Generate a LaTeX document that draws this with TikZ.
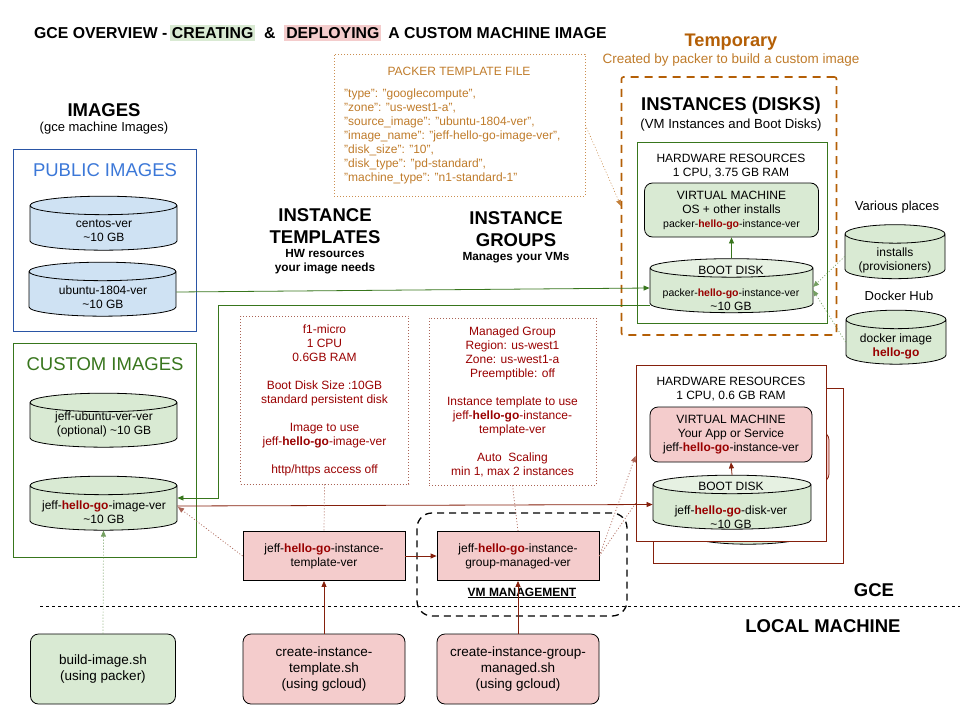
\documentclass[tikz,border=0pt]{standalone}
\usepackage{fontspec}
\setmainfont{Liberation Sans}
\usetikzlibrary{arrows.meta,shapes.geometric}
\definecolor{fillGreen}{HTML}{D9EAD3}
\definecolor{fillPink}{HTML}{F4CCCC}
\definecolor{fillBlue}{HTML}{CFE2F3}
\definecolor{lineGreen}{HTML}{38761D}
\definecolor{lineBlue}{HTML}{2A55A5}
\definecolor{textBlue}{HTML}{3C78D8}
\definecolor{lineRed}{HTML}{85200C}
\definecolor{textRed}{HTML}{990000}
\definecolor{lineOrange}{HTML}{B45F06}
\definecolor{textOrange}{HTML}{BF7B2A}
\newcommand{\hg}{\textbf{\textcolor{textRed}{hello-go}}}
\newcommand{\gb}{\textasciitilde 10 GB}
\newcommand{\px}[2]{\fontsize{#1}{#2}\selectfont}
\newcommand{\lid}{\phantom{centos-ver}\\\phantom{10 GB}}
\begin{document}
\begin{tikzpicture}
        [x=1pt, y=-1pt,
        every node/.style={font=\px{12}{14}, align=center, inner sep=0pt},
        frame/.style={draw, line width=0.8pt, fill=white},
        heading/.style={font=\px{18.5}{22}\bfseries},
        subHeading/.style={font=\px{11.8}{14}\bfseries},
        boxGreen/.style={draw, line width=0.8pt, rounded corners=8pt, fill=fillGreen},
        boxPink/.style={draw, line width=0.8pt, rounded corners=8pt, fill=fillPink},
        rectPink/.style={draw, line width=0.8pt, fill=fillPink},
        notePink/.style={draw=lineRed!70, dash pattern=on 1pt off 2pt, line width=0.6pt, text=textRed},
        disk/.style={cylinder, shape border rotate=90, aspect=0.33, draw, line width=0.8pt, cylinder uses custom fill},
        diskBlue/.style={disk, cylinder body fill=fillBlue, cylinder end fill=fillBlue, minimum width=147, minimum height=54},
        diskGreen/.style={disk, cylinder body fill=fillGreen, cylinder end fill=fillGreen, minimum width=147, minimum height=54},
        diskBoot/.style={disk, cylinder body fill=fillGreen, cylinder end fill=fillGreen!65, minimum height=54},
        diskSmall/.style={disk, cylinder body fill=fillGreen, cylinder end fill=fillGreen, minimum width=100, minimum height=54},
        arrowTip/.style={-{Triangle[length=6pt,width=5pt]}},
        lnGreen/.style={arrowTip, lineGreen, line width=0.8pt},
        lnRed/.style={arrowTip, lineRed, line width=0.8pt},
        dotGreen/.style={arrowTip, lineGreen!70, dash pattern=on 1pt off 2pt, line width=0.7pt},
        dotRed/.style={arrowTip, lineRed!70, dash pattern=on 1pt off 2pt, line width=0.7pt}]
        \useasboundingbox (0,0) rectangle (960,720);
        \setlength{\fboxsep}{2pt}

        \node[font=\px{15.8}{18}\bfseries, anchor=west] (title) at (34,33) {GCE OVERVIEW -\,\colorbox{fillGreen}{CREATING}\ \ \&\ \ \colorbox{fillPink}{DEPLOYING}\, A CUSTOM MACHINE IMAGE};

        % left column
        \node[heading] (imgHead) at (104,110) {IMAGES};
        \node[font=\px{13}{15}] (imgSub) at (104,128) {(gce machine Images)};
        \node[frame, draw=lineBlue, minimum width=183, minimum height=182] (publicBox) at (105,240) {};
        \node[font=\px{18.5}{22}, text=textBlue] (publicHead) at (105,170) {PUBLIC IMAGES};
        \node[diskBlue] (centos) at (103.5,228) {\lid};
        \node (centosText) at (104,231) {centos-ver\\\gb};
        \node[diskBlue] (ubuntu) at (102.5,294) {\lid};
        \node (ubuntuText) at (103,297) {ubuntu-1804-ver\\\gb};
        \node[frame, draw=lineGreen, minimum width=183, minimum height=214] (customBox) at (105,450) {};
        \node[font=\px{18.5}{22}, text=lineGreen] (customHead) at (105,364) {CUSTOM IMAGES};
        \node[diskGreen] (jeffUbuntu) at (103.5,425) {\lid};
        \node (jeffUbuntuText) at (104,424) {jeff-ubuntu-ver-ver\\(optional) \gb};
        \node[diskGreen] (jeffImage) at (103.5,508) {\lid};
        \node (jeffImageText) at (104,512) {jeff-\hg-image-ver\\\gb};

        % middle column
        \node[draw=lineOrange!70, dash pattern=on 1pt off 2pt, line width=0.6pt, minimum width=251, minimum height=142] (packerBox) at (459.5,125) {};
        \node[text=textOrange] (packerHead) at (459,71) {PACKER TEMPLATE FILE};
        \node[text=textOrange, align=left, anchor=north west] (packerText) at (344,89) {"type": "googlecompute",\\"zone": "us-west1-a",\\"source\_image": "ubuntu-1804-ver",\\"image\_name": "jeff-hello-go-image-ver",\\"disk\_size": "10",\\"disk\_type": "pd-standard",\\"machine\_type": "n1-standard-1"};
        \node[heading] (tmplHead) at (325,226) {INSTANCE\\TEMPLATES};
        \node[subHeading] (tmplSub) at (325,262) {HW resources\\your image needs};
        \node[heading] (groupHead) at (516,229) {INSTANCE\\GROUPS};
        \node[subHeading] (groupSub) at (516,258) {Manages your VMs};
        \node[notePink, minimum width=168, minimum height=168] (tmplNote) at (324.5,400) {f1-micro\\1 CPU\\0.6GB RAM\\[14pt]Boot Disk Size :10GB\\standard persistent disk\\[14pt]Image to use\\jeff-\textbf{hello-go}-image-ver\\[14pt]http/https access off};
        \node[notePink, minimum width=167, minimum height=167] (groupNote) at (512.5,401.5) {Managed Group\\Region: us-west1\\Zone: us-west1-a\\Preemptible: off\\[14pt]Instance template to use\\jeff-\textbf{hello-go}-instance-\\template-ver\\[14pt]Auto\ \ Scaling\\min 1, max 2 instances};

        % temporary instance
        \node[font=\px{18.2}{22}\bfseries, text=lineOrange] (tempHead) at (731,42) {Temporary};
        \node[font=\px{13.5}{16}, text=textOrange] (tempSub) at (731,60) {Created by packer to build a custom image};
        \node[draw=lineOrange, dashed, line width=1.6pt, rounded corners=2pt, dash pattern=on 8pt off 6pt, minimum width=215, minimum height=258] (tempBox) at (729,206) {};
        \node[heading] (instHead) at (731,106) {INSTANCES (DISKS)};
        \node[font=\px{13.2}{15}] (instSub) at (731,125) {(VM Instances and Boot Disks)};
        \node[frame, draw=lineGreen, minimum width=190, minimum height=181] (hwGreen) at (732,232.5) {};
        \node (hwGreenText) at (731,166) {HARDWARE RESOURCES\\1 CPU, 3.75 GB RAM};
        \node[boxGreen, minimum width=174, minimum height=54] (vmGreen) at (731.5,210) {VIRTUAL MACHINE\\OS + other installs\\\px{10.5}{14}packer-\hg-instance-ver};
        \node[diskBoot, minimum width=163] (bootGreen) at (731.5,290.5) {\lid};
        \node (bootGreenHead) at (731,270) {BOOT DISK};
        \node (bootGreenText) at (731,300) {\px{10.5}{14}packer-\hg-instance-ver\\\px{12}{14}\gb};
        \node[font=\px{13}{16}] (variousText) at (897,207) {Various places};
        \node[diskSmall] (installs) at (895,256.5) {\lid};
        \node (installsText) at (895,260) {installs\\(provisioners)};
        \node[font=\px{13}{16}] (dockerText) at (899,296) {Docker Hub};
        \node[diskSmall] (dockerDisk) at (896,342) {\lid};
        \node (dockerDiskText) at (896,346) {docker image\\\hg};

        % gce and local row
        \node[rectPink, minimum width=162, minimum height=49] (tmplBox) at (324,556) {jeff-\hg-instance-\\template-ver};
        \node[rectPink, minimum width=162, minimum height=49] (groupBox) at (518,556) {jeff-\hg-instance-\\group-managed-ver};
        \node[draw, dashed, line width=1.3pt, dash pattern=on 7pt off 5pt, rounded corners=15pt, minimum width=210, minimum height=103] (vmBox) at (522,564.5) {};
        \node[font=\px{12}{14}\bfseries] (vmText) at (522,593) {\underline{VM MANAGEMENT}};
        \coordinate (dashStart) at (40,606);
        \coordinate (dashEnd) at (960,606);
        \draw[dashed, line width=0.7pt] (dashStart) -- (dashEnd);
        \node[heading] (gceText) at (874,590) {GCE};
        \node[heading] (localText) at (823,626) {LOCAL MACHINE};
        \node[boxGreen, font=\px{13.5}{16}, minimum width=145, minimum height=70] (buildBox) at (103,669) {build-image.sh\\(using packer)};
        \node[boxPink, font=\px{13.5}{16}, minimum width=162, minimum height=70] (createTmpl) at (324,669) {create-instance-\\template.sh\\(using gcloud)};
        \node[boxPink, font=\px{13.5}{16}, minimum width=162, minimum height=70] (createGroup) at (518,669) {create-instance-group-\\managed.sh\\(using gcloud)};

        % running instance, the copy behind first
        \node[frame, draw=lineRed, minimum width=190, minimum height=175] (hwBack) at (748,475.5) {};
        \node[boxPink, draw=lineRed, minimum width=162, minimum height=50] (vmBack) at (748,457) {};
        \node[diskGreen, minimum width=118, minimum height=53] (diskBack) at (748,522.5) {\lid};
        \coordinate (hwBackWest) at (653,478);
        \draw[dotRed, -] (groupBox.east) -- (hwBackWest);
        \node[frame, draw=lineRed, minimum width=190, minimum height=176] (hwRed) at (731.5,453) {};
        \node (hwRedText) at (731,389) {HARDWARE RESOURCES\\1 CPU, 0.6 GB RAM};
        \node[boxPink, minimum width=162, minimum height=55] (vmRed) at (731,434.5) {VIRTUAL MACHINE\\Your App or Service\\jeff-\hg-instance-ver};
        \node[diskBoot, minimum width=158] (bootRed) at (732,507) {\lid};
        \node (bootRedHead) at (731,486) {BOOT DISK};
        \node (bootRedText) at (731,517) {jeff-\hg-disk-ver\\\gb};

        % connectors
        \draw[lnGreen] (ubuntu.east |- 0,292) -- (bootGreen.west |- 0,288);
        \draw[lnGreen] (bootGreen.west |- 0,305) -- (218.5,305) -- (218.5,498) -- (jeffImage.east |- 0,498);
        \draw[lnRed] (jeffImage.east |- 0,506) -- (bootRed.west |- 0,504.5);
        \draw[lnGreen] (bootGreen.north) -- (vmGreen.south);
        \draw[lnRed] (bootRed.north) -- (vmRed.south);
        \draw[lnRed] (tmplBox.east) -- (groupBox.west);
        \draw[lnRed] (createTmpl.north) -- (tmplBox.south);
        \draw[lnRed] (createGroup.north) -- (groupBox.south);
        \draw[dotGreen] (buildBox.north) -- (jeffImage.south);
        \draw[dotGreen] (installs.west) -- (813,287);
        \draw[dotGreen] (dockerDisk.west) -- (813,290);
        \draw[dotRed] (tmplBox.west) -- (178,507);
        \draw[dotRed] (groupBox.east) -- (635.5,456);
        \draw[dotRed, -] (tmplNote.south) -- (tmplBox.north);
        \draw[dotRed, -] (groupNote.south) -- (groupBox.north);
        \draw[arrowTip, lineOrange!80, dash pattern=on 1pt off 2pt, line width=0.5pt] (packerBox.east) -- (621,206);
    \end{tikzpicture}
\end{document}
